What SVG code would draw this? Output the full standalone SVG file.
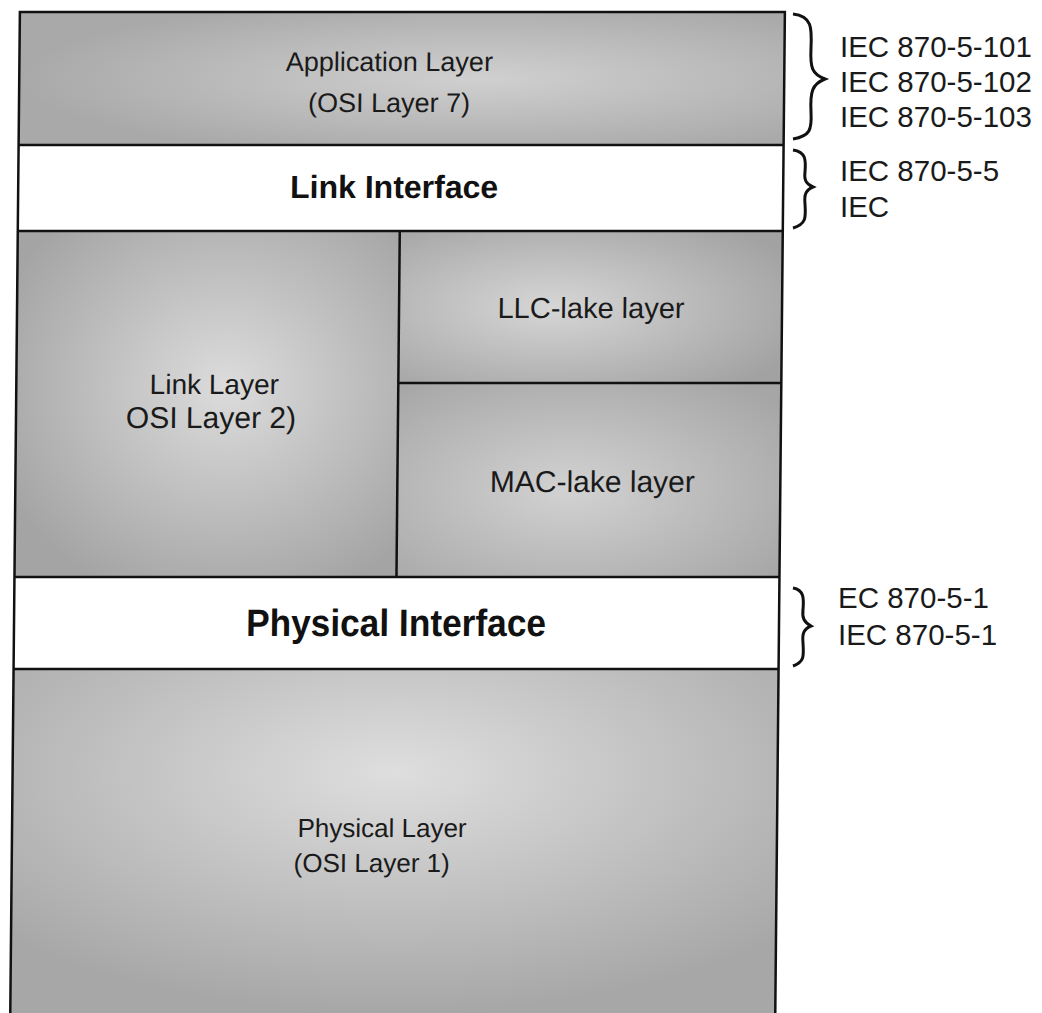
<svg xmlns="http://www.w3.org/2000/svg" width="1042" height="1013" viewBox="0 0 1042 1013">
<style>
.lbl{font-family:"Liberation Sans",Arial,sans-serif;fill:#1a1a1a;text-anchor:middle;font-size:27px}
.big{font-family:"Liberation Sans",Arial,sans-serif;fill:#111;text-anchor:middle;font-size:32px;font-weight:bold}
.std{font-family:"Liberation Sans",Arial,sans-serif;fill:#1a1a1a;font-size:29.5px}
.ln{stroke:#111;stroke-width:2.5;fill:none}
.br{fill:none;stroke:#111;stroke-width:3}
</style>
<defs>
<radialGradient id="gApp" cx="0.6" cy="0.5" r="0.6"><stop offset="0" stop-color="#d0d0d0"/><stop offset="1" stop-color="#a9a9a9"/></radialGradient>
<radialGradient id="gLink" cx="0.55" cy="0.45" r="0.65"><stop offset="0" stop-color="#dcdcdc"/><stop offset="1" stop-color="#a4a4a4"/></radialGradient>
<radialGradient id="gLLC" cx="0.4" cy="0.5" r="0.7"><stop offset="0" stop-color="#d6d6d6"/><stop offset="1" stop-color="#a2a2a2"/></radialGradient>
<radialGradient id="gMAC" cx="0.45" cy="0.55" r="0.7"><stop offset="0" stop-color="#d2d2d2"/><stop offset="1" stop-color="#a6a6a6"/></radialGradient>
<radialGradient id="gPhy" cx="0.5" cy="0.3" r="0.7"><stop offset="0" stop-color="#dedede"/><stop offset="1" stop-color="#a7a7a7"/></radialGradient>
</defs>
<rect width="1042" height="1013" fill="#ffffff"/>
<g transform="skewX(-0.55)">
<g id="application-layer">
<rect x="20" y="12" width="765" height="133" fill="url(#gApp)"/>
<text class="lbl" x="390" y="71">Application Layer</text>
<text class="lbl" x="390" y="112">(OSI Layer 7)</text>
</g>
<g id="link-interface">
<rect x="20" y="145" width="765" height="86" fill="#ffffff"/>
<text class="big" x="396" y="198">Link Interface</text>
</g>
<g id="link-layer">
<rect x="20" y="231" width="382" height="346" fill="url(#gLink)"/>
<text class="lbl" x="218" y="394" style="font-size:28px">Link Layer</text>
<text class="lbl" x="215" y="428" style="font-size:30px">OSI Layer 2)</text>
</g>
<g id="llc-layer">
<rect x="402" y="231" width="383" height="152" fill="url(#gLLC)"/>
<text class="lbl" x="594" y="318" style="font-size:29px">LLC-lake layer</text>
</g>
<g id="mac-layer">
<rect x="402" y="383" width="383" height="194" fill="url(#gMAC)"/>
<text class="lbl" x="597" y="492" style="font-size:30px">MAC-lake layer</text>
</g>
<g id="physical-interface">
<rect x="20" y="577" width="765" height="92" fill="#ffffff"/>
<text class="big" x="402" y="636" style="font-size:38px" textLength="300" lengthAdjust="spacingAndGlyphs">Physical Interface</text>
</g>
<g id="physical-layer">
<rect x="20" y="669" width="765" height="344" fill="url(#gPhy)"/>
<text class="lbl" x="390" y="837" style="font-size:26px">Physical Layer</text>
<text class="lbl" x="380" y="872" style="font-size:26px">(OSI Layer 1)</text>
</g>
<g id="frame">
<rect x="20" y="12" width="765" height="1010" class="ln" stroke-width="3"/>
<line class="ln" x1="20" y1="145" x2="785" y2="145"/>
<line class="ln" x1="20" y1="231" x2="785" y2="231"/>
<line class="ln" x1="20" y1="577" x2="785" y2="577"/>
<line class="ln" x1="20" y1="669" x2="785" y2="669"/>
<line class="ln" x1="402" y1="231" x2="402" y2="577" stroke-width="2"/>
<line class="ln" x1="402" y1="383" x2="785" y2="383" stroke-width="1.5"/>
</g>
</g>
<g id="connectors">
<path class="br" d="M793,14 C812,16 812,28 811,48 C810,68 812,74 825,79 C812,84 810,92 811,112 C812,130 810,136 793,139"/>
<path class="br" d="M793,150 C806,152 806,160 805,172 C804,180 806,184 813,187 C806,190 804,194 805,204 C806,218 806,224 793,228"/>
<path class="br" d="M793,588 C804,590 804,598 803,610 C802,618 804,622 811,626 C804,629 802,633 803,643 C804,657 804,662 793,666"/>
</g>
<g id="standards">
<text class="std" x="840" y="57">IEC 870-5-101</text>
<text class="std" x="840" y="92">IEC 870-5-102</text>
<text class="std" x="840" y="127">IEC 870-5-103</text>
<text class="std" x="840" y="181">IEC 870-5-5</text>
<text class="std" x="840" y="217">IEC</text>
<text class="std" x="838" y="608">EC 870-5-1</text>
<text class="std" x="838" y="645">IEC 870-5-1</text>
</g>
</svg>
